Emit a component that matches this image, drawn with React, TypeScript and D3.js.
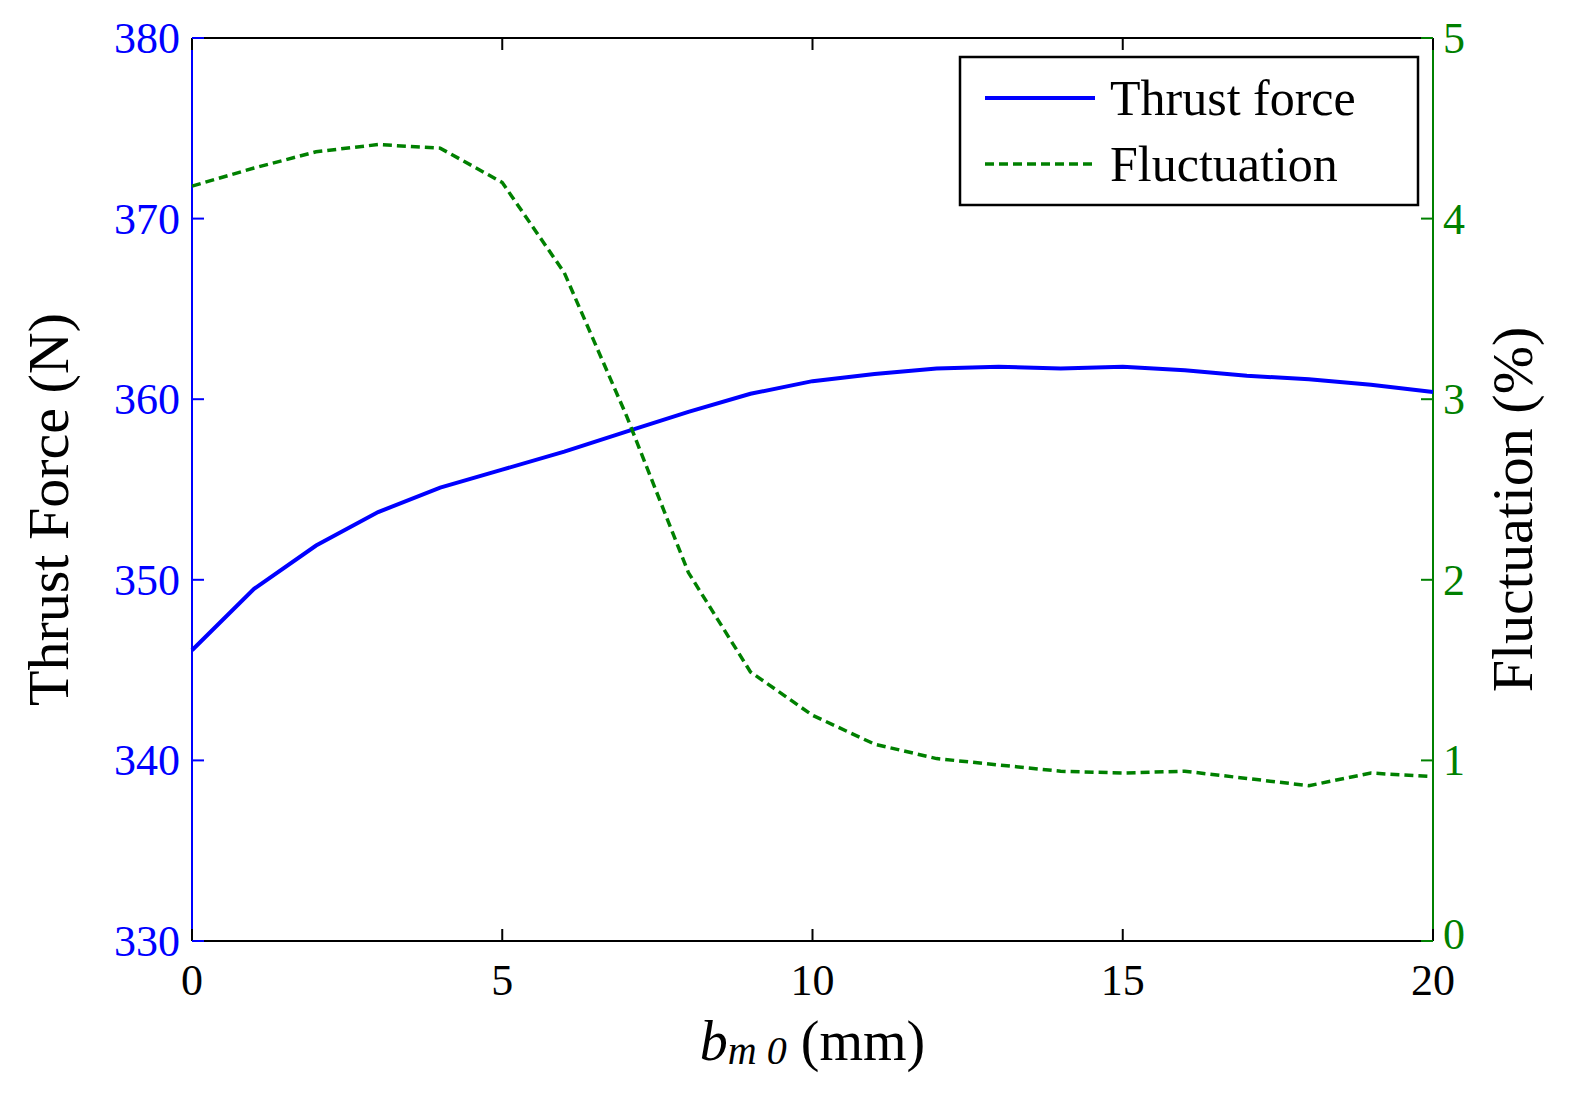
import * as React from 'react';
import * as d3 from 'd3';

const xValues = [0, 1, 2, 3, 4, 5, 6, 7, 8, 9, 10, 11, 12, 13, 14, 15, 16, 17, 18, 19, 20];
const thrust = [346.1, 349.5, 351.9, 353.75, 355.1, 356.1, 357.1, 358.2, 359.3, 360.3, 361.0, 361.4, 361.7, 361.8, 361.7, 361.8, 361.6, 361.3, 361.1, 360.8, 360.4];
const fluctuation = [4.18, 4.28, 4.37, 4.41, 4.39, 4.2, 3.7, 2.91, 2.04, 1.49, 1.25, 1.09, 1.01, 0.975, 0.94, 0.93, 0.94, 0.9, 0.86, 0.93, 0.91];
const xTicks = [0, 5, 10, 15, 20];
const leftTicks = [330, 340, 350, 360, 370, 380];
const rightTicks = [0, 1, 2, 3, 4, 5];

const W = 1581;
const H = 1095;
const m = { left: 192, right: 1433, top: 38, bottom: 941 };
const BLUE = '#0000ff';
const GREEN = '#008000';
const font = '"Liberation Serif", "Times New Roman", serif';

export default function App() {
	const x = d3.scaleLinear().domain([0, 20]).range([m.left, m.right]);
	const yL = d3.scaleLinear().domain([330, 380]).range([m.bottom, m.top]);
	const yR = d3.scaleLinear().domain([0, 5]).range([m.bottom, m.top]);
	const thrustLine = d3.line<number>().x((_, i) => x(xValues[i])).y((d) => yL(d))(thrust) as string;
	const flucLine = d3.line<number>().x((_, i) => x(xValues[i])).y((d) => yR(d))(fluctuation) as string;
	const tick = 12;

	return (
		<svg width={W} height={H} style={{ position: 'absolute', left: 0, top: 0, background: '#fff' }} fontFamily={font}>
			<rect x={0} y={0} width={W} height={H} fill="#fff" />
			{/* frame */}
			<line x1={m.left} x2={m.right} y1={m.top} y2={m.top} stroke="#000" strokeWidth={2} />
			<line x1={m.left} x2={m.right} y1={m.bottom} y2={m.bottom} stroke="#000" strokeWidth={2} />
			<line x1={m.left} x2={m.left} y1={m.top} y2={m.bottom} stroke={BLUE} strokeWidth={2} />
			<line x1={m.right} x2={m.right} y1={m.top} y2={m.bottom} stroke={GREEN} strokeWidth={2} />
			{xTicks.map((t) => (
				<g key={'x' + t}>
					<line x1={x(t)} x2={x(t)} y1={m.bottom} y2={m.bottom - tick} stroke="#000" strokeWidth={2} />
					<line x1={x(t)} x2={x(t)} y1={m.top} y2={m.top + tick} stroke="#000" strokeWidth={2} />
					<text x={x(t)} y={m.bottom + 54} fontSize={44} textAnchor="middle">{t}</text>
				</g>
			))}
			{leftTicks.map((t) => (
				<g key={'l' + t}>
					<line x1={m.left} x2={m.left + tick} y1={yL(t)} y2={yL(t)} stroke={BLUE} strokeWidth={2} />
					<text x={m.left - 12} y={yL(t) + 15} fontSize={44} textAnchor="end" fill={BLUE}>{t}</text>
				</g>
			))}
			{rightTicks.map((t) => (
				<g key={'r' + t}>
					<line x1={m.right} x2={m.right - tick} y1={yR(t)} y2={yR(t)} stroke={GREEN} strokeWidth={2} />
					<text x={m.right + 10} y={yR(t) + (t === 0 ? 8 : 15)} fontSize={44} fill={GREEN}>{t}</text>
				</g>
			))}
			<path d={thrustLine} fill="none" stroke={BLUE} strokeWidth={4} />
			<path d={flucLine} fill="none" stroke={GREEN} strokeWidth={3.5} strokeDasharray="9,5" />
			{/* axis labels */}
			<text x={x(10)} y={1060} fontSize={56} textAnchor="middle">
				<tspan fontStyle="italic">b</tspan>
				<tspan fontStyle="italic" fontSize={40} dy={4}>m 0</tspan>
				<tspan dy={-4}> (mm)</tspan>
			</text>
			<text transform={`translate(68,${(m.top + m.bottom) / 2 + 20}) rotate(-90)`} fontSize={58} textAnchor="middle">Thrust Force (N)</text>
			<text transform={`translate(1532,${(m.top + m.bottom) / 2 + 20}) rotate(-90)`} fontSize={58} textAnchor="middle">Fluctuation (%)</text>
			{/* legend */}
			<rect x={960} y={57} width={458} height={148} fill="#fff" stroke="#000" strokeWidth={2.5} />
			<line x1={985} x2={1095} y1={98} y2={98} stroke={BLUE} strokeWidth={4} />
			<text x={1110} y={115} fontSize={50}>Thrust force</text>
			<line x1={985} x2={1095} y1={164} y2={164} stroke={GREEN} strokeWidth={3.5} strokeDasharray="9,5" />
			<text x={1110} y={181} fontSize={50}>Fluctuation</text>
		</svg>
	);
}
